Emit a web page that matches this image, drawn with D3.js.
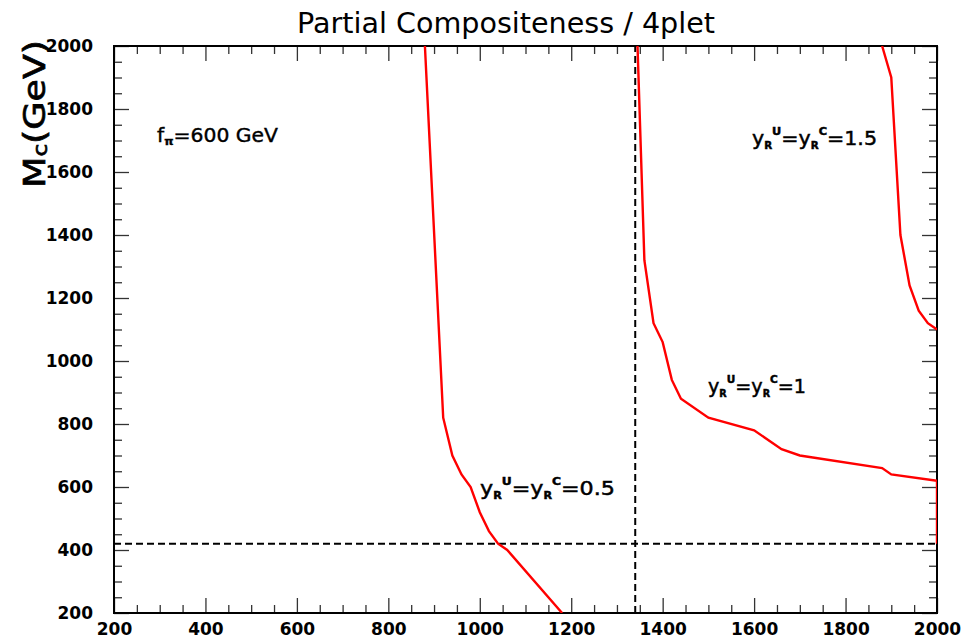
<!DOCTYPE html>
<html>
<head>
<meta charset="utf-8">
<script src="https://cdn.jsdelivr.net/npm/d3@7"></script>
<style>
  body { margin: 0; background: #fff; }
  svg { display: block; }
  text { font-family: "DejaVu Sans", sans-serif; }
</style>
</head>
<body>
<svg id="chart" width="980" height="641"></svg>
<script>
// x: M_u (GeV), y: M_c (GeV)
var xMajor = [200, 400, 600, 800, 1000, 1200, 1400, 1600, 1800, 2000];
var yMajor = [200, 400, 600, 800, 1000, 1200, 1400, 1600, 1800, 2000];

// exclusion contours
var curve05 = [[880,2000],[920,820],[940,700],[960,640],[980,600],[1000,520],[1020,460],[1040,420],[1060,400],[1180,200]];
var curve10 = [[1345,2000],[1360,1320],[1380,1120],[1400,1060],[1420,940],[1440,880],[1500,820],[1600,780],[1660,720],[1700,700],[1880,660],[1900,640],[2000,620],[2000,420]];
var curve15 = [[1880,2000],[1900,1900],[1920,1400],[1940,1240],[1960,1160],[1980,1120],[2000,1100]];

var hLine = 420;   // M_c bound
var vLine = 1340;  // M_u bound

var svg = d3.select("#chart");
var pL = 114, pR = 937, pT = 46, pB = 613;

var x = d3.scaleLinear().domain([200, 2000]).range([pL, pR]);
var y = d3.scaleLinear().domain([200, 2000]).range([pB, pT]);

var xMinor = d3.range(200, 2001, 50).filter(function(d){ return d % 200 !== 0; });
var yMinor = d3.range(200, 2001, 50).filter(function(d){ return d % 200 !== 0; });

svg.append("clipPath").attr("id", "frame")
  .append("rect").attr("x", pL).attr("y", pT).attr("width", pR - pL).attr("height", pB - pT);

// title
svg.append("text")
  .attr("x", 297).attr("y", 33)
  .attr("textLength", 418).attr("lengthAdjust", "spacingAndGlyphs")
  .style("font-size", "28px")
  .text("Partial Compositeness / 4plet");

// axes, ticks pointing inward on all four sides
function tickStyle(g) {
  g.select(".domain").remove();
  g.selectAll(".tick line").attr("stroke", "#333").attr("stroke-width", 1.3);
  g.selectAll(".tick text")
    .attr("fill", "#000")
    .style("font-family", "'DejaVu Sans', sans-serif")
    .style("font-weight", "bold")
    .style("font-size", "17px");
}

svg.append("g").attr("transform", "translate(0," + pB + ")")
  .call(d3.axisBottom(x).tickValues(xMajor).tickSize(-15).tickPadding(10).tickFormat(d3.format("d")))
  .call(tickStyle);
svg.append("g").attr("transform", "translate(0," + pB + ")")
  .call(d3.axisBottom(x).tickValues(xMinor).tickSize(-8).tickFormat(""))
  .call(tickStyle);
svg.append("g").attr("transform", "translate(0," + pT + ")")
  .call(d3.axisTop(x).tickValues(xMajor).tickSize(-15).tickFormat(""))
  .call(tickStyle);
svg.append("g").attr("transform", "translate(0," + pT + ")")
  .call(d3.axisTop(x).tickValues(xMinor).tickSize(-8).tickFormat(""))
  .call(tickStyle);

svg.append("g").attr("transform", "translate(" + pL + ",0)")
  .call(d3.axisLeft(y).tickValues(yMajor).tickSize(-15).tickPadding(21).tickFormat(d3.format("d")))
  .call(tickStyle);
svg.append("g").attr("transform", "translate(" + pL + ",0)")
  .call(d3.axisLeft(y).tickValues(yMinor).tickSize(-8).tickFormat(""))
  .call(tickStyle);
svg.append("g").attr("transform", "translate(" + pR + ",0)")
  .call(d3.axisRight(y).tickValues(yMajor).tickSize(-15).tickFormat(""))
  .call(tickStyle);
svg.append("g").attr("transform", "translate(" + pR + ",0)")
  .call(d3.axisRight(y).tickValues(yMinor).tickSize(-8).tickFormat(""))
  .call(tickStyle);

// frame
svg.append("rect")
  .attr("x", pL).attr("y", pT).attr("width", pR - pL).attr("height", pB - pT)
  .attr("fill", "none").attr("stroke", "#000").attr("stroke-width", 2);

// y axis title
var yt = svg.append("text")
  .attr("transform", "translate(45,188) rotate(-90)")
  .attr("textLength", 148).attr("lengthAdjust", "spacingAndGlyphs")
  .attr("stroke", "#000").attr("stroke-width", 0.7)
  .style("font-size", "30px");
yt.append("tspan").text("M");
yt.append("tspan").attr("dy", 2).style("font-size", "19px").text("c");
yt.append("tspan").attr("dy", -2).text("(GeV)");

// dashed bounds
var plot = svg.append("g").attr("clip-path", "url(#frame)");
plot.append("line")
  .attr("x1", x(200)).attr("x2", x(2000)).attr("y1", y(hLine)).attr("y2", y(hLine))
  .attr("stroke", "#000").attr("stroke-width", 2).attr("stroke-dasharray", "7,4");
plot.append("line")
  .attr("x1", x(vLine)).attr("x2", x(vLine)).attr("y1", y(200)).attr("y2", y(2000))
  .attr("stroke", "#000").attr("stroke-width", 2).attr("stroke-dasharray", "7,4");

// contours
var line = d3.line().x(function(d){ return x(d[0]); }).y(function(d){ return y(d[1]); });
[curve05, curve10, curve15].forEach(function(c){
  plot.append("path").datum(c)
    .attr("d", line)
    .attr("fill", "none").attr("stroke", "#ff0000").attr("stroke-width", 2.4);
});

// labels
function coupling(xp, yp, val, len) {
  var t = svg.append("text")
    .attr("x", xp).attr("y", yp)
    .attr("textLength", len).attr("lengthAdjust", "spacingAndGlyphs")
    .attr("stroke", "#000").attr("stroke-width", 0.5)
    .style("font-size", "20px");
  t.append("tspan").text("y");
  t.append("tspan").attr("dy", 4).style("font-size", "10px").style("font-weight", "bold").text("R");
  t.append("tspan").attr("dy", -14).style("font-size", "11px").style("font-weight", "bold").text("U");
  t.append("tspan").attr("dy", 10).text("=y");
  t.append("tspan").attr("dy", 4).style("font-size", "10px").style("font-weight", "bold").text("R");
  t.append("tspan").attr("dy", -14).style("font-size", "11px").style("font-weight", "bold").text("C");
  t.append("tspan").attr("dy", 10).text("=" + val);
}

var fl = svg.append("text")
  .attr("x", 157).attr("y", 142)
  .attr("textLength", 121).attr("lengthAdjust", "spacingAndGlyphs")
  .attr("stroke", "#000").attr("stroke-width", 0.4)
  .style("font-size", "19px");
fl.append("tspan").text("f");
fl.append("tspan").attr("dy", 3).style("font-size", "11px").style("font-weight", "bold").text("π");
fl.append("tspan").attr("dy", -3).text("=600 GeV");

coupling(752, 145, "1.5", 125);
coupling(708, 393, "1", 98);
coupling(480, 495, "0.5", 135);
</script>
</body>
</html>
